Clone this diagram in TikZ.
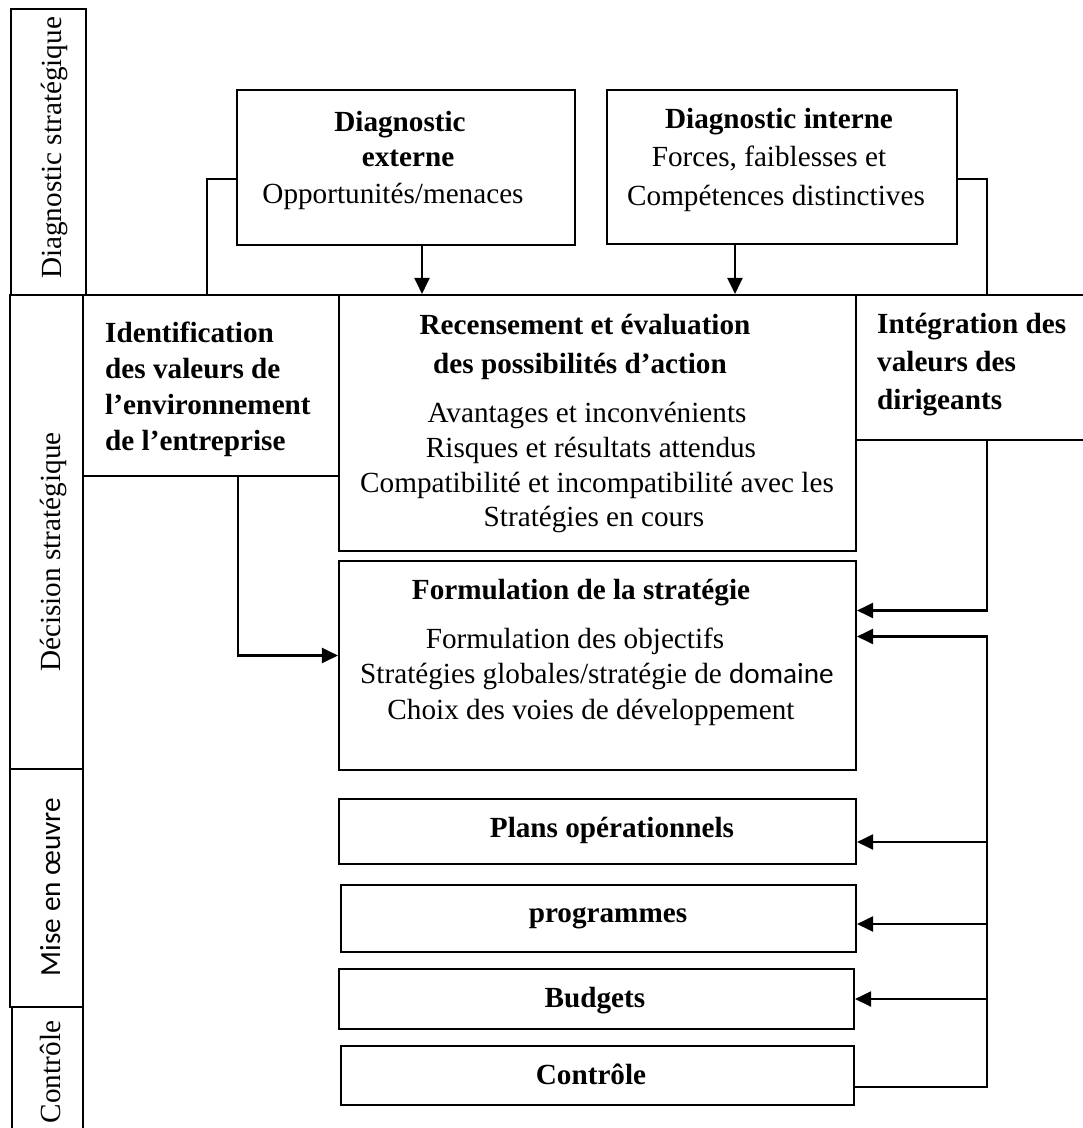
\documentclass[tikz,border=0pt]{standalone}
\usepackage{fontspec}
\setmainfont{Liberation Serif}
\newfontfamily\calib{Carlito}
\usetikzlibrary{arrows.meta}

% rectangle node from its corner coordinates: name, x1, y1, x2, y2
\newcommand\panel[5]{%
  \node[box, minimum width={(#4)-(#2)}, minimum height={(#5)-(#3)}]
    (#1) at ({((#2)+(#4))/2},{((#3)+(#5))/2}) {};}

\begin{document}
\begin{tikzpicture}[x=1pt, y=-1pt,
  box/.style={draw, line width=2.1pt, inner sep=0pt},
  wire/.style={line width=2.1pt},
  arr/.style={wire, -{Triangle[length=16pt,width=15pt]}},
  txt/.style={inner sep=0pt, anchor=base, font=\fontsize{29.2}{34}\selectfont},
  btxt/.style={txt, font=\fontsize{29.2}{34}\selectfont\bfseries},
  ltxt/.style={btxt, anchor=base west},
  side/.style={txt, rotate=90}]

\fill[white] (0,0) rectangle (1083,1128);
\useasboundingbox (0,0) rectangle (1083,1128);

% phase column on the left
\panel{colDiag}{11}{9}{86}{295}
\panel{colDec}{10}{295}{83}{769}
\panel{colMise}{10}{769}{83}{1007}
\panel{colCtl}{12}{1007}{83}{1145}
\node[side] (lblDiag) at (61,148) {Diagnostic stratégique};
\node[side] (lblDec) at (60,552) {Décision stratégique};
\node[side, font=\fontsize{29.2}{34}\calib] (lblMise) at (60,887) {Mise en œuvre};
\node[side] (lblCtl) at (60,1072) {Contrôle};

% diagnosis boxes
\panel{ext}{237}{90}{575}{245}
\panel{int}{607}{90}{957}{244}
\node[btxt] (extA) at (400,131) {Diagnostic};
\node[btxt] (extB) at (408,166) {externe};
\node[txt] (extC) at (393,203) {Opportunités/menaces};
\node[btxt] (intA) at (779,128) {Diagnostic interne};
\node[txt] (intB) at (769,166) {Forces, faiblesses et};
\node[txt] (intC) at (776,205) {Compétences distinctives};

% decision row
\panel{ident}{83}{295}{339}{476}
\panel{rec}{339}{295}{856}{551}
\panel{integ}{856}{295}{1118}{440}
\node[ltxt] (idA) at (105,342) {Identification};
\node[ltxt] (idB) at (105,378) {des valeurs de};
\node[ltxt] (idC) at (105,414) {l’environnement};
\node[ltxt] (idD) at (105,450) {de l’entreprise};
\node[ltxt] (igA) at (877,333) {Intégration des};
\node[ltxt] (igB) at (877,371) {valeurs des};
\node[ltxt] (igC) at (877,409) {dirigeants};
\node[btxt] (recA) at (585,334) {Recensement et évaluation};
\node[btxt] (recB) at (580,373) {des possibilités d’action};
\node[txt] (recC) at (587,422) {Avantages et inconvénients};
\node[txt] (recD) at (591,457) {Risques et résultats attendus};
\node[txt] (recE) at (597,492) {Compatibilité et incompatibilité avec les};
\node[txt] (recF) at (594,526) {Stratégies en cours};

% strategy formulation
\panel{form}{339}{561}{856}{770}
\node[btxt] (fA) at (581,599) {Formulation de la stratégie};
\node[txt] (fB) at (575,648) {Formulation des objectifs};
\node[txt] (fC) at (597,683) {Stratégies globales/stratégie de {\calib domaine}};
\node[txt] (fD) at (591,719) {Choix des voies de développement};

% implementation and control
\panel{plan}{339}{799}{856}{864}
\panel{prog}{341}{885}{856}{952}
\panel{budg}{339}{969}{854}{1029}
\panel{ctl}{341}{1046}{854}{1105}
\node[btxt] (tPlan) at (612,837) {Plans opérationnels};
\node[btxt] (tProg) at (608,922) {programmes};
\node[btxt] (tBudg) at (595,1007) {Budgets};
\node[btxt] (tCtl) at (591,1084) {Contrôle};

% connectors from the diagnosis
\draw[wire] ([yshift=-11.5pt]ext.west) -| ([xshift=-4pt]ident.north);
\coordinate (extOut) at ([xshift=16pt]ext.south);
\draw[arr] (extOut) -- (extOut |- rec.north);
\coordinate (intOut) at ([xshift=-47pt]int.south);
\draw[arr] (intOut) -- (intOut |- rec.north);
\draw[wire] ([yshift=-12pt]int.east) -| (integ.north);

% values feeding the formulation
\draw[arr] (integ.south) |- ([yshift=55pt]form.east);
\draw[arr] ([xshift=27pt]ident.south) |- ([yshift=10pt]form.west);

% feedback rail on the right
\coordinate (fbTop) at ([yshift=29pt]form.east);
\coordinate (fbBot) at ([yshift=-11.5pt]ctl.east);
\draw[arr] (fbBot) -- (fbBot -| integ.south) -- (fbTop -| integ.south) -- (fbTop);
\coordinate (inPlan) at ([yshift=-10.5pt]plan.east);
\coordinate (inProg) at ([yshift=-5.5pt]prog.east);
\coordinate (inBudg) at (budg.east);
\draw[arr] (inPlan -| integ.south) -- (inPlan);
\draw[arr] (inProg -| integ.south) -- (inProg);
\draw[arr] (inBudg -| integ.south) -- (inBudg);
\end{tikzpicture}
\end{document}
